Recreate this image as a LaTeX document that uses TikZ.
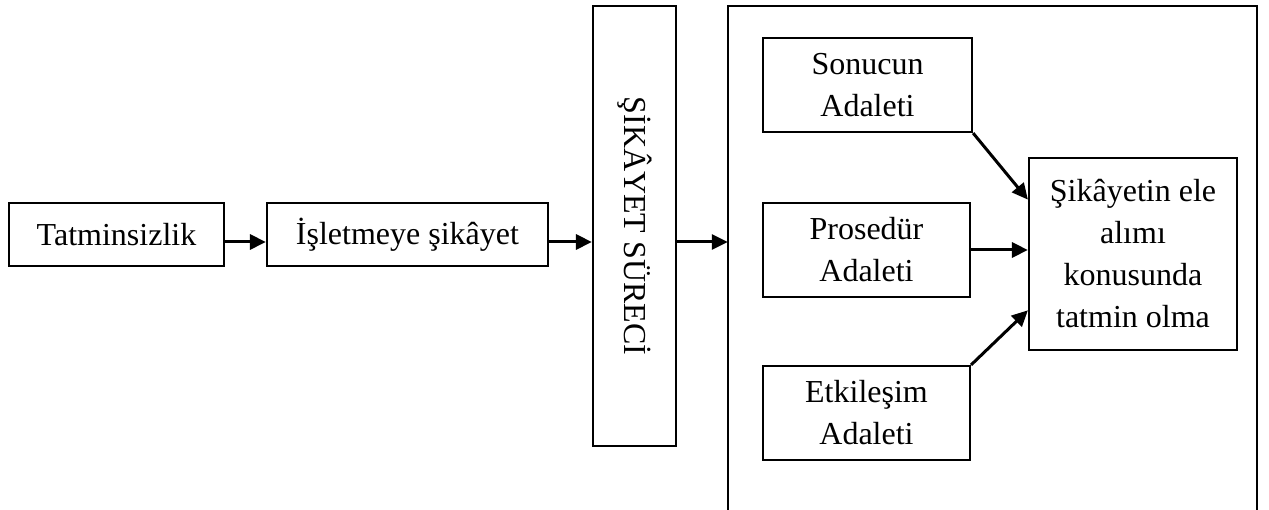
\documentclass[tikz,border=0pt]{standalone}
\usepackage{fontspec}
\setmainfont{Liberation Serif}
\usetikzlibrary{arrows.meta,calc}
\begin{document}
\begin{tikzpicture}[x=1pt,y=-1pt,
  box/.style={draw, line width=2.2pt, rectangle, inner sep=0pt, align=center,
    font=\fontsize{32}{42}\selectfont},
  conn/.style={line width=3pt, -{Triangle[length=16pt,width=15pt]}},
  frameside/.style={line width=2.2pt}]
\useasboundingbox (0,0) rectangle (1269,510);

% main chain
\node[box, minimum width=215pt, minimum height=63pt] (tat) at (116.5,234.5) {Tatminsizlik};
\node[box, minimum width=281pt, minimum height=63pt] (isl) at (407.5,234.5) {İşletmeye şikâyet};
\node[box, minimum width=83pt, minimum height=440pt] (sur) at (634.5,226)
  {\rotatebox{-90}{ŞİKÂYET SÜRECİ}};

% open frame around the justice dimensions
\node[minimum width=529pt, minimum height=504pt, inner sep=0pt] (frame) at (992.5,258) {};
\draw[frameside] (frame.south west) -- (frame.north west) -- (frame.north east) -- (frame.south east);

% justice dimensions
\node[box, minimum width=209pt, minimum height=94pt] (son) at (867.5,85) {Sonucun\\Adaleti};
\node[box, minimum width=207pt, minimum height=94pt] (pro) at (866.5,250) {Prosedür\\Adaleti};
\node[box, minimum width=207pt, minimum height=94pt] (etk) at (866.5,413) {Etkileşim\\Adaleti};

% outcome
\node[box, minimum width=208pt, minimum height=192pt] (tgt) at (1133,254)
  {Şikâyetin ele\\alımı\\konusunda\\tatmin olma};

% the main flow runs slightly below the box centres
\coordinate (flow) at ([yshift=-7.5pt]isl.east);

% connectors
\draw[conn] (tat.east |- flow) -- (isl.west |- flow);
\draw[conn] (flow) -- (sur.west |- flow);
\draw[conn] (sur.east |- flow) -- (frame.west |- flow);
\draw[conn] (son.south east) -- ($(tgt.north west)!0.22!(tgt.south west)$);
\draw[conn] (pro.east) -- (tgt.west |- pro.east);
\draw[conn] (etk.north east) -- ($(tgt.north west)!0.79!(tgt.south west)$);
\end{tikzpicture}
\end{document}
